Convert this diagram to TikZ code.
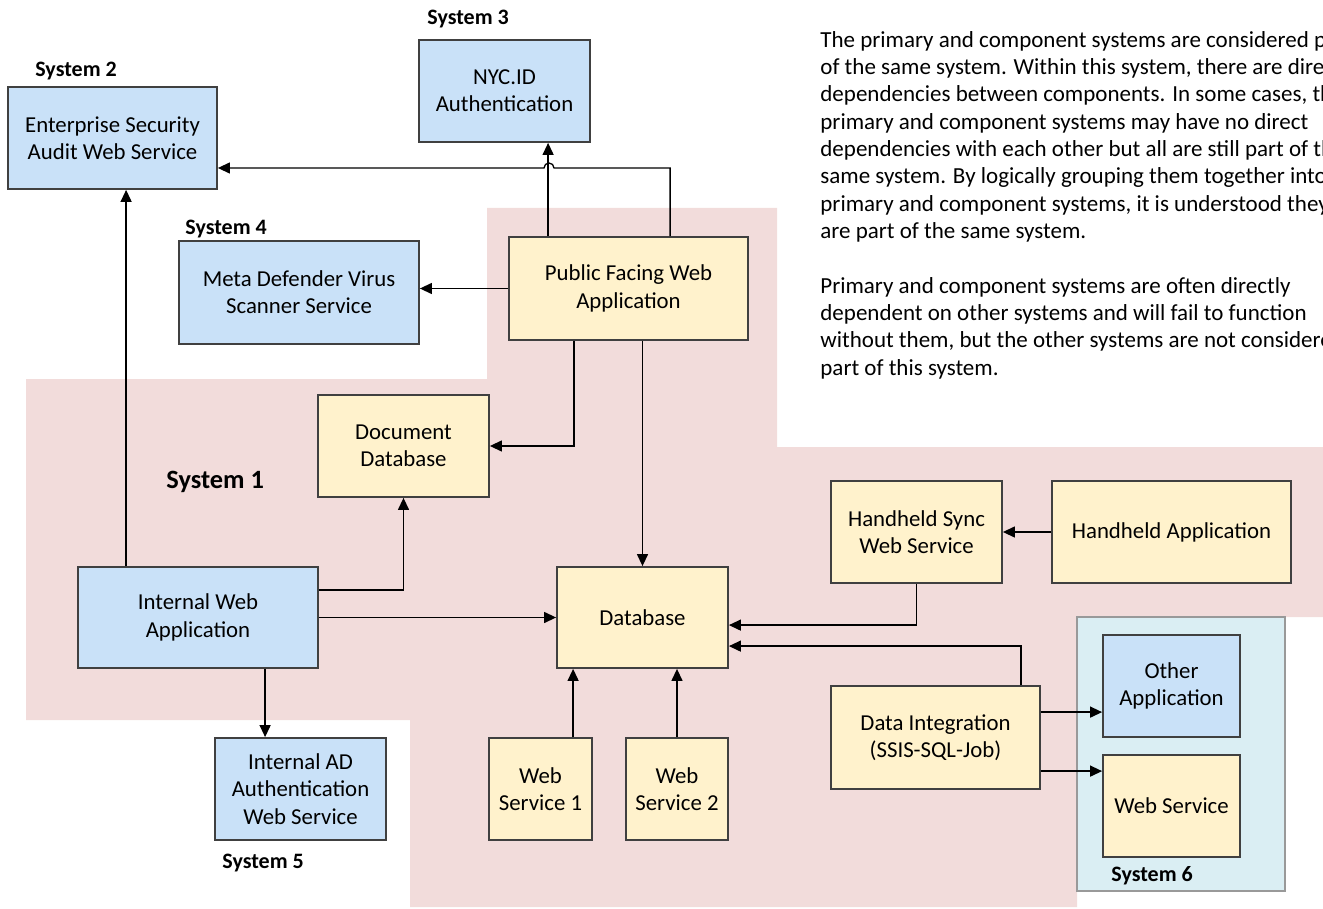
\documentclass[tikz,border=0pt]{standalone}
\usepackage{fontspec}
\setmainfont{Carlito}
\usetikzlibrary{arrows.meta}
\definecolor{pinkbg}{HTML}{F2DCDB}
\definecolor{bluebox}{HTML}{C9E1F8}
\definecolor{yellowbox}{HTML}{FFF2CC}
\definecolor{sixbg}{HTML}{DAEEF3}
\definecolor{boxline}{HTML}{404040}
\begin{document}
\begin{tikzpicture}[x=0.5pt,y=-0.5pt,
  basebox/.style={draw=boxline, line width=0.9pt, inner sep=0pt, align=center,
    font=\fontsize{11.4}{13.6}\selectfont},
  bluenode/.style={basebox, fill=bluebox},
  yellownode/.style={basebox, fill=yellowbox},
  conn/.style={draw=black, line width=0.65pt, -{Triangle[length=6pt,width=5.5pt]}},
  syslabel/.style={font=\bfseries\fontsize{11}{13}\selectfont, inner sep=0pt, anchor=base west},
  para/.style={font=\fontsize{11.5}{13.65}\selectfont, inner sep=0pt, anchor=north west, align=left}
]
\useasboundingbox (0,0) rectangle (1323,909);
\clip (0,0) rectangle (1323,909);

% System 1 region
\fill[pinkbg] (26,379) -- (487,379) -- (487,208) -- (777,208) -- (777,447) -- (1330,447)
  -- (1330,617) -- (1077,617) -- (1077,907) -- (410,907) -- (410,720) -- (26,720) -- cycle;
% System 6 region
\filldraw[fill=sixbg, draw=gray!80, line width=0.7pt] (1077,617) rectangle (1285,891);

% Nodes
\node[bluenode, minimum width=104.5pt, minimum height=51pt] (esa) at (112.5,138) {Enterprise Security\\Audit Web Service};
\node[bluenode, minimum width=85.5pt, minimum height=51pt] (nyc) at (504.5,91) {NYC.ID\\Authentication};
\node[bluenode, minimum width=120pt, minimum height=51.5pt] (mdv) at (299,292.5) {Meta Defender Virus\\Scanner Service};
\node[yellownode, minimum width=119.5pt, minimum height=51.5pt] (pfw) at (628.5,288.5) {Public Facing Web\\Application};
\node[yellownode, minimum width=85.5pt, minimum height=51pt] (ddb) at (403.5,446) {Document\\Database};
\node[bluenode, minimum width=120pt, minimum height=50.5pt] (iwa) at (198,617.5) {Internal Web\\Application};
\node[yellownode, minimum width=85.5pt, minimum height=50.5pt] (db) at (642.5,617.5) {Database};
\node[yellownode, minimum width=85.5pt, minimum height=51pt] (hsw) at (916.5,532) {Handheld Sync\\Web Service};
\node[yellownode, minimum width=119.5pt, minimum height=51pt] (hha) at (1171.5,532) {Handheld Application};
\node[bluenode, minimum width=68.5pt, minimum height=51pt] (oth) at (1171.5,686) {Other\\Application};
\node[yellownode, minimum width=68.5pt, minimum height=51pt] (wsv) at (1171.5,806) {Web Service};
\node[yellownode, minimum width=104.5pt, minimum height=51.5pt] (dti) at (935.5,737.5) {Data Integration\\(SSIS-SQL-Job)};
\node[yellownode, minimum width=51.5pt, minimum height=51pt] (ws1) at (540.5,789) {Web\\Service 1};
\node[yellownode, minimum width=51pt, minimum height=51pt] (ws2) at (677,789) {Web\\Service 2};
\node[bluenode, minimum width=85.5pt, minimum height=51pt] (iad) at (300.5,789) {Internal AD\\Authentication\\Web Service};

% System labels
\node[syslabel] (s2) at (35,77) {System 2};
\node[syslabel] (s3) at (427,25) {System 3};
\node[syslabel] (s4) at (185,235) {System 4};
\node[syslabel] (s5) at (222,868) {System 5};
\node[syslabel] (s6) at (1111,881) {System 6};
\node[syslabel, font=\bfseries\fontsize{13.2}{15}\selectfont] (s1) at (166,488) {System 1};

% Explanatory text
\node[para] (para1) at (820,31) {The primary and component systems are considered part\\
of the same system. Within this system, there are direct\\
dependencies between components. In some cases, the\\
primary and component systems may have no direct\\
dependencies with each other but all are still part of the\\
same system. By logically grouping them together into\\
primary and component systems, it is understood they\\
are part of the same system.};
\node[para] (para2) at (820,277) {Primary and component systems are often directly\\
dependent on other systems and will fail to function\\
without them, but the other systems are not considered\\
part of this system.};

% Connectors
\coordinate (jr) at (554,168);
\draw[conn] ([xshift=81pt]pfw.north west) |- (jr) arc[start angle=0, end angle=180, radius=2.5pt] -- ([yshift=-15pt]esa.east);
\draw[conn] ([xshift=20pt]pfw.north west) -- ([xshift=20pt]pfw.north west |- nyc.south);
\draw[conn] (pfw.west) -- (pfw.west -| mdv.east);
\draw[conn] ([xshift=33pt]pfw.south west) |- (ddb.east);
\draw[conn] (db.north |- pfw.south) -- (db.north);
\draw[conn] ([xshift=24.5pt]iwa.north west) -- ([xshift=24.5pt]iwa.north west |- esa.south);
\draw[conn] ([yshift=-12pt]iwa.north east) -| (ddb.south);
\draw[conn] (iwa.east) -- (iwa.east -| db.west);
\draw[conn] ([xshift=94pt]iwa.south west) -- ([xshift=94pt]iwa.south west |- iad.north);
\draw[conn] ([xshift=42.5pt]ws1.north west) -- ([xshift=42.5pt]ws1.north west |- db.south);
\draw[conn] (ws2.north) -- (ws2.north |- db.south);
\draw[conn] (hsw.south) |- ([yshift=-29.5pt]db.north east);
\draw[conn] ([xshift=95.5pt]dti.north west) |- ([yshift=-40pt]db.north east);
\draw[conn] (hha.west) -- (hsw.east);
\draw[conn] ([yshift=-13.5pt]dti.north east) -- ([yshift=-13.5pt]dti.north east -| oth.west);
\draw[conn] ([yshift=-43pt]dti.north east) -- ([yshift=-43pt]dti.north east -| wsv.west);
\end{tikzpicture}
\end{document}
